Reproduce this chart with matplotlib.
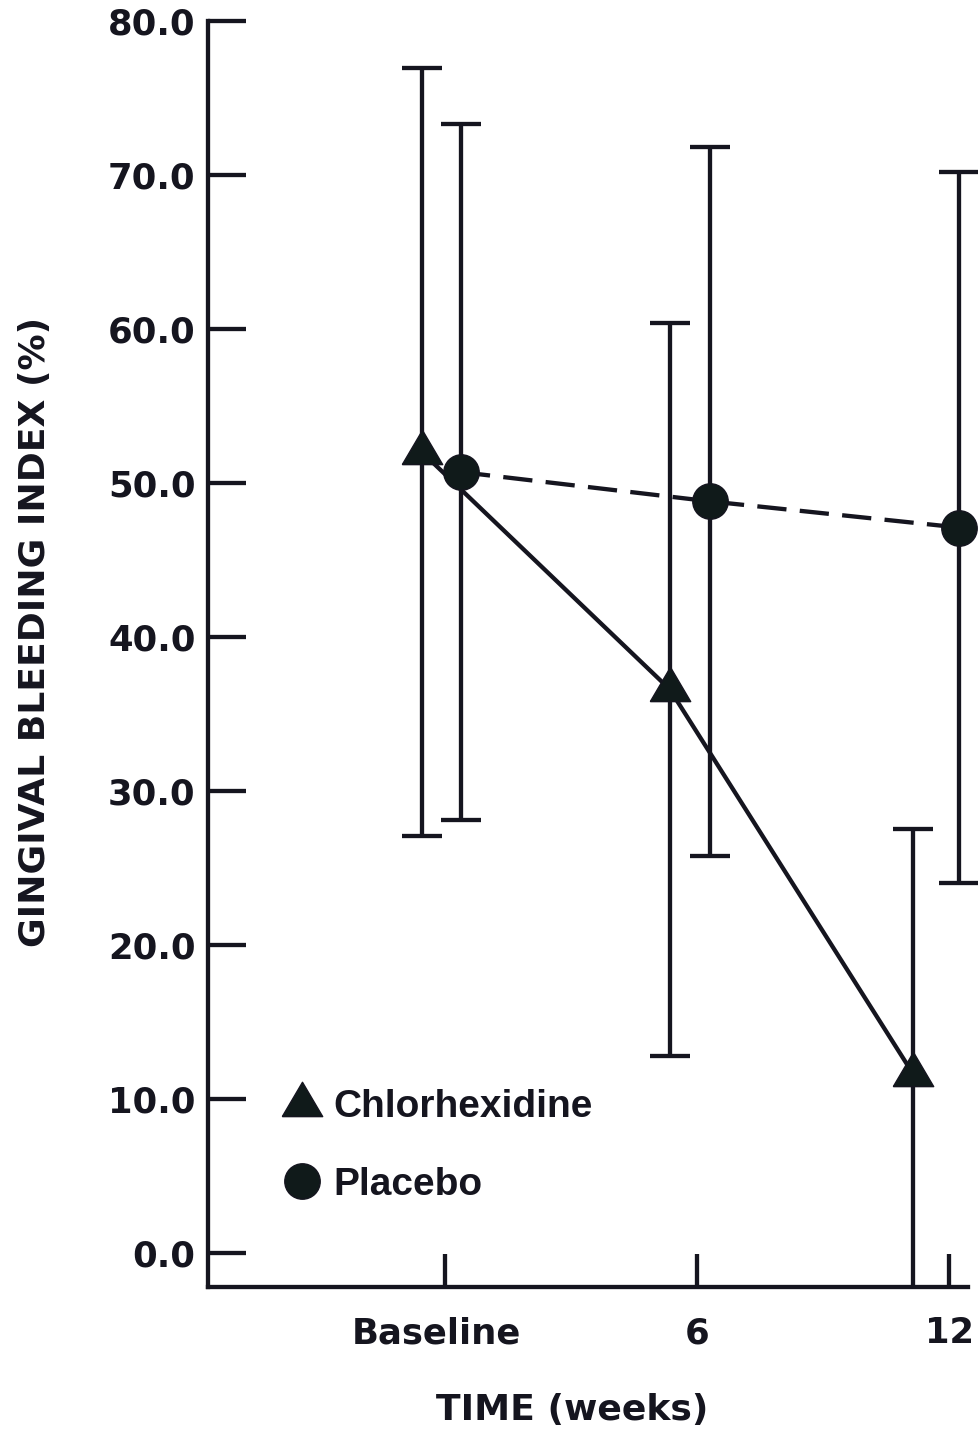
import matplotlib
matplotlib.use("Agg")
import matplotlib.pyplot as plt
import matplotlib.transforms as mtransforms
from matplotlib.lines import Line2D

# ---- data ----
time_ticks = [0, 6, 12]
time_labels = ["Baseline", "6", "12"]
y_ticks = [0, 10, 20, 30, 40, 50, 60, 70, 80]
y_labels = ["0.0", "10.0", "20.0", "30.0", "40.0", "50.0", "60.0", "70.0", "80.0"]

chx_time = [-0.55, 5.35, 11.15]
chx_mean = [52.0, 36.6, 11.6]
chx_sd = [24.9, 23.8, 15.9]

pla_time = [0.38, 6.31, 12.24]
pla_mean = [50.7, 48.8, 47.1]
pla_sd = [22.6, 23.0, 23.1]

series_names = ["Chlorhexidine", "Placebo"]

# ---- style ----
INK = "#15151f"
FILL = "#101a1a"
FONT = "DejaVu Sans"
LEGFONT = "Liberation Sans"
LW = 3.1
TRI = [(-1, -0.6), (1, -0.6), (0, 1.1), (-1, -0.6)]

X_LEFT, X_AXIS_END, X_RIGHT = -5.64, 12.45, 12.9

fig = plt.figure(figsize=(9.79, 14.30), dpi=100)
ax = fig.add_axes([0.2125, 0.1, 0.7956, 0.8855])

# error bars
ax.errorbar(chx_time, chx_mean, yerr=chx_sd, fmt="none", ecolor=INK,
            elinewidth=LW, capsize=14.5, capthick=LW, zorder=2)
ax.errorbar(pla_time, pla_mean, yerr=pla_sd, fmt="none", ecolor=INK,
            elinewidth=LW, capsize=14.5, capthick=LW, zorder=2)

# lines
ax.plot(chx_time, chx_mean, color=INK, lw=LW, ls="-", zorder=3)
ax.plot(pla_time, pla_mean, color=INK, lw=LW, ls=(0, (6.8, 3.1)), zorder=3)
# markers
ax.plot(chx_time, chx_mean, ls="none", marker=TRI, markersize=32,
        mfc=FILL, mec=INK, mew=1.0, zorder=4)
ax.plot(pla_time, pla_mean, ls="none", marker="o", markersize=25.5,
        mfc=FILL, mec=INK, mew=1.0, zorder=4)

ax.set_xlim(X_LEFT, X_RIGHT)
ax.set_ylim(-2.2, 80)

for s in ["top", "right"]:
    ax.spines[s].set_visible(False)
for s in ["left", "bottom"]:
    ax.spines[s].set_linewidth(LW)
    ax.spines[s].set_color(INK)
ax.spines["bottom"].set_bounds(X_LEFT, X_AXIS_END)

ax.set_yticks(y_ticks)
ax.set_yticklabels(y_labels)
ax.set_xticks(time_ticks)
ax.set_xticklabels(time_labels)
ax.tick_params(axis="y", direction="in", length=27, width=LW, color=INK, pad=9,
               labelsize=25.5, labelcolor=INK)
ax.tick_params(axis="x", direction="in", length=24, width=LW, color=INK, pad=21,
               labelsize=25.5, labelcolor=INK)
for lab in ax.get_xticklabels() + ax.get_yticklabels():
    lab.set_fontfamily(FONT)
    lab.set_fontweight("bold")
# Baseline label sits slightly left of its tick in the original
base_lab = ax.get_xticklabels()[0]
base_lab.set_transform(base_lab.get_transform() +
                       mtransforms.ScaledTranslation(-9 / 100, 0, fig.dpi_scale_trans))

ax.set_xlabel("TIME (weeks)", fontsize=26, fontweight="bold", family=FONT, color=INK)
ax.set_ylabel("GINGIVAL BLEEDING INDEX (%)", fontsize=26, fontweight="bold", family=FONT, color=INK)
ax.xaxis.set_label_coords(0.467, -0.0837)
ax.yaxis.set_label_coords(-0.200, 0.517)

handles = [
    Line2D([], [], ls="none", marker=TRI, markersize=32, mfc=FILL, mec=INK, mew=1.0),
    Line2D([], [], ls="none", marker="o", markersize=25.5, mfc=FILL, mec=INK, mew=1.0),
]
leg = ax.legend(handles, series_names, loc="upper left", bbox_to_anchor=(0.0905, 0.1562),
                frameon=False, borderpad=0, borderaxespad=0, handlelength=1.2,
                handletextpad=0.21, labelspacing=1.07,
                prop={"family": LEGFONT, "weight": "bold", "size": 28})
for t in leg.get_texts():
    t.set_color(INK)

fig.savefig("out.png", dpi=100, facecolor="white")
